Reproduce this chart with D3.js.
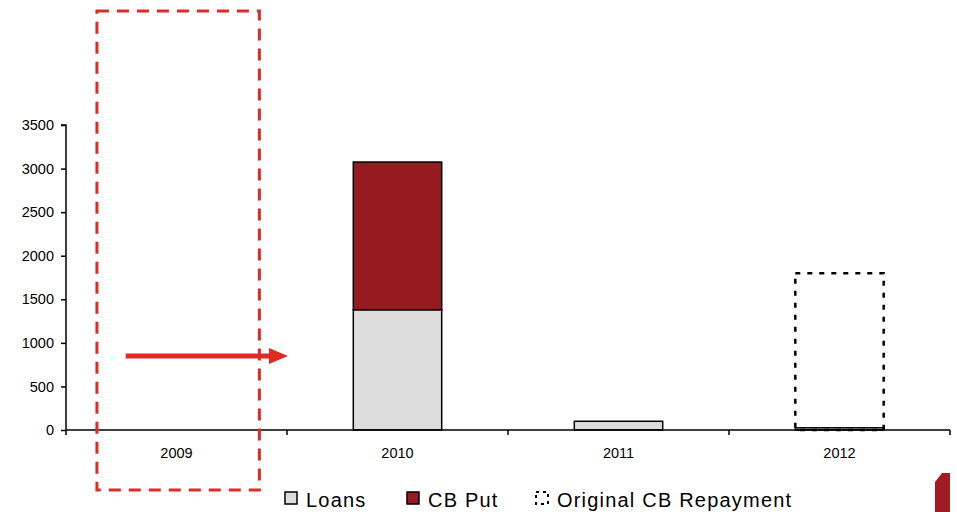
<!DOCTYPE html>
<html>
<head>
<meta charset="utf-8">
<script src="https://cdn.jsdelivr.net/npm/d3@7"></script>
<style>
  html, body { margin: 0; padding: 0; background: #fff; }
  svg { display: block; font-family: "Liberation Sans", Arial, sans-serif; }
</style>
</head>
<body>
<svg id="chart" width="957" height="512"></svg>
<script>
// Debt maturity profile (units as on the axis)
const years = ["2009", "2010", "2011", "2012"];
const loans = [0, 1380, 100, 25];
const cbPut = [0, 1695, 0, 0];
const originalCbRepayment = [0, 0, 0, 1800];
const yTicks = [0, 500, 1000, 1500, 2000, 2500, 3000, 3500];

const colors = { loans: "#dcdcdc", cbPut: "#961b20", accent: "#e02a26" };

const svg = d3.select("#chart");
const margin = { left: 66, right: 7, top: 125, bottom: 82 };
const W = 957, H = 512;

const x = d3.scaleBand().domain(years).range([margin.left, W - margin.right]).padding(0);
const y = d3.scaleLinear().domain([0, 3500]).range([H - margin.bottom, margin.top]);
const barW = x.bandwidth() * 0.4;
const barX = d => x(d) + (x.bandwidth() - barW) / 2;

// Y axis
const yAxis = svg.append("g").attr("transform", `translate(${margin.left},0)`)
  .call(d3.axisLeft(y).tickValues(yTicks).tickSize(5).tickPadding(7).tickFormat(d3.format("d")));
yAxis.selectAll("text").attr("font-size", 14.5).attr("fill", "#000");
yAxis.selectAll("line,path").attr("stroke", "#000").attr("stroke-width", 1.5);
yAxis.select(".domain").attr("d", `M-5,${y(3500)}H0V${y(0)}`);

// Stacked bars
const stack = years.map((yr, i) => ({ yr, loans: loans[i], cbPut: cbPut[i], orig: originalCbRepayment[i] }));
const bars = svg.append("g");
stack.forEach(d => {
  if (d.loans > 0) {
    bars.append("rect")
      .attr("x", barX(d.yr)).attr("width", barW)
      .attr("y", y(d.loans)).attr("height", y(0) - y(d.loans))
      .attr("fill", colors.loans).attr("stroke", "#000").attr("stroke-width", 1.5);
  }
  if (d.cbPut > 0) {
    bars.append("rect")
      .attr("x", barX(d.yr)).attr("width", barW)
      .attr("y", y(d.loans + d.cbPut)).attr("height", y(d.loans) - y(d.loans + d.cbPut))
      .attr("fill", colors.cbPut).attr("stroke", "#000").attr("stroke-width", 1.5);
  }
  if (d.orig > 0) {
    bars.append("rect")
      .attr("x", barX(d.yr)).attr("width", barW)
      .attr("y", y(d.orig)).attr("height", y(0) - y(d.orig))
      .attr("fill", "none").attr("stroke", "#000").attr("stroke-width", 2.5)
      .attr("stroke-dasharray", "5,7");
  }
});

// X axis
const xAxisG = svg.append("g").attr("transform", `translate(0,${y(0)})`);
xAxisG.append("line").attr("x1", margin.left).attr("x2", W - margin.right)
  .attr("stroke", "#000").attr("stroke-width", 1.5);
const xTickPos = years.map(d => x(d)).concat([x(years[years.length - 1]) + x.bandwidth()]);
xAxisG.selectAll(".xt").data(xTickPos).join("line")
  .attr("x1", d => d).attr("x2", d => d).attr("y1", 0).attr("y2", 5)
  .attr("stroke", "#000").attr("stroke-width", 1.5);
xAxisG.selectAll(".xl").data(years).join("text")
  .attr("x", d => x(d) + x.bandwidth() / 2).attr("y", 28)
  .attr("text-anchor", "middle").attr("font-size", 14.5).text(d => d);

// Highlight frame around 2009 and arrow toward 2010
const fx0 = x("2009") + x.bandwidth() * 0.14, fx1 = x("2009") + x.bandwidth() * 0.875;
svg.append("rect").attr("x", fx0).attr("y", 11).attr("width", fx1 - fx0).attr("height", 479)
  .attr("fill", "none").attr("stroke", colors.accent).attr("stroke-width", 3)
  .attr("stroke-dasharray", "12,8");

const ay = y(850);
const ax0 = x("2009") + x.bandwidth() * 0.27, ax1 = x("2010");
svg.append("line").attr("x1", ax0).attr("x2", ax1 - 16).attr("y1", ay).attr("y2", ay)
  .attr("stroke", colors.accent).attr("stroke-width", 5);
svg.append("path")
  .attr("d", `M${ax1 - 18},${ay - 8}L${ax1 + 1},${ay}L${ax1 - 18},${ay + 8}Z`)
  .attr("fill", colors.accent);

// Legend
const legend = svg.append("g").attr("font-size", 20).attr("letter-spacing", 1.2);
const legendItems = [
  { label: "Loans", x: 285, kind: "loans" },
  { label: "CB Put", x: 407, kind: "cbPut" },
  { label: "Original CB Repayment", x: 536, kind: "orig" }
];
legendItems.forEach(it => {
  const r = legend.append("rect").attr("x", it.x).attr("y", 492).attr("width", 12).attr("height", 12);
  if (it.kind === "orig") {
    r.attr("fill", "none").attr("stroke", "#000").attr("stroke-width", 2).attr("stroke-dasharray", "3,4");
  } else {
    r.attr("fill", colors[it.kind]).attr("stroke", "#000").attr("stroke-width", 1.5);
  }
  legend.append("text").attr("x", it.x + 21).attr("y", 507).text(it.label);
});

// Corner mark
svg.append("path").attr("d", "M935,482L942,473L950,473L950,512L935,512Z").attr("fill", "#a01c22");
</script>
</body>
</html>
